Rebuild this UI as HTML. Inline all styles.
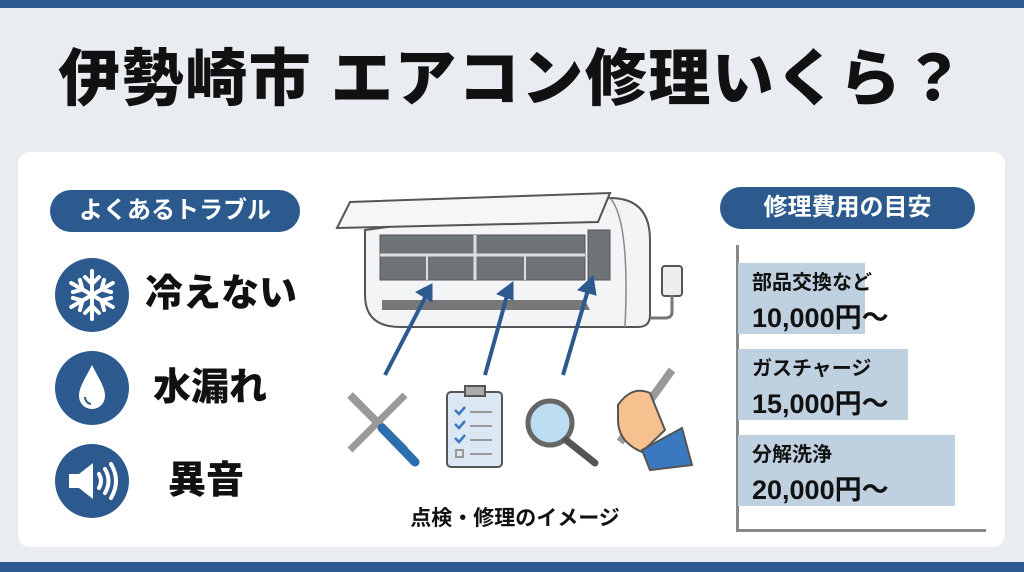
<!DOCTYPE html>
<html><head><meta charset="utf-8"><style>
body{margin:0;width:1024px;height:572px;background:#e9edf2;position:relative;overflow:hidden;font-family:"Liberation Sans","Noto Sans CJK JP",sans-serif;}
.abs{position:absolute}
.t{font-weight:900;color:#111}
.badge{position:absolute;background:#2c5a8e;color:#fff;border-radius:22px;font-weight:700;text-align:center;font-size:24px;line-height:42px;height:42px}
.circ{position:absolute;width:74px;height:74px;border-radius:50%;background:#2c5a8e;left:55px}
.bar{position:absolute;left:738px;background:#bfd0e0;height:71px}
.bt{position:absolute;left:752px;font-weight:700;color:#111}
</style></head><body>
<div class="abs" style="left:0;top:0;width:1024px;height:8px;background:#2c5a8e"></div>
<div class="abs" style="left:0;top:562px;width:1024px;height:10px;background:#2c5a8e"></div>
<div class="abs t" style="left:0;top:40px;width:1024px;text-align:center;font-size:62px;line-height:80px;letter-spacing:1.5px">伊勢崎市 エアコン修理いくら？</div>
<div class="abs" style="left:18px;top:152px;width:987px;height:395px;background:#fff;border-radius:12px"></div>

<div class="badge" style="left:50px;top:190px;width:250px">よくあるトラブル</div>
<div class="circ" style="top:258px"><svg width="74" height="74" viewBox="-37 -37 74 74" stroke="#fff" stroke-width="4" stroke-linecap="round" fill="none">
<g><line x1="0" y1="-24" x2="0" y2="24"/><path d="M-7 -18 L0 -11 L7 -18 M-7 18 L0 11 L7 18"/></g>
<g transform="rotate(60)"><line x1="0" y1="-24" x2="0" y2="24"/><path d="M-7 -18 L0 -11 L7 -18 M-7 18 L0 11 L7 18"/></g>
<g transform="rotate(120)"><line x1="0" y1="-24" x2="0" y2="24"/><path d="M-7 -18 L0 -11 L7 -18 M-7 18 L0 11 L7 18"/></g></svg></div>
<div class="circ" style="top:351px"><svg width="74" height="74" viewBox="0 0 74 74"><path d="M37 14 C30 28 24 36 24 45 A13 13 0 0 0 50 45 C50 36 44 28 37 14Z" fill="#fff"/><path d="M30 46 A7 7 0 0 0 36 53" stroke="#2c5a8e" stroke-width="2" fill="none"/></svg></div>
<div class="circ" style="top:444px"><svg width="74" height="74" viewBox="0 0 74 74" fill="none" stroke="#fff" stroke-width="4" stroke-linecap="round"><path d="M14 30 H24 L38 19 V55 L24 44 H14Z" fill="#fff" stroke="none"/><path d="M44 30 Q48 37 44 44"/><path d="M50 25 Q57 37 50 49"/><path d="M56 20 Q66 37 56 54"/></svg></div>
<div class="abs t" style="left:145px;top:272px;font-size:38px;line-height:44px">冷えない</div>
<div class="abs t" style="left:153px;top:366px;font-size:38px;line-height:44px">水漏れ</div>
<div class="abs t" style="left:168px;top:459px;font-size:38px;line-height:44px">異音</div>

<svg class="abs" style="left:320px;top:180px" width="380" height="300" viewBox="0 0 380 300">
<path d="M45 50 L290 18 Q330 18 330 60 L330 135 Q330 147 318 147 L80 147 Q45 147 45 115Z" fill="#f2f4f6" stroke="#555" stroke-width="2"/>
<path d="M290 18 Q310 40 305 147" stroke="#888" fill="none" stroke-width="1.5"/>
<rect x="60" y="55" width="205" height="45" fill="#6e7378" stroke="#555"/>
<line x1="60" y1="75" x2="265" y2="75" stroke="#ddd" stroke-width="3"/><line x1="155" y1="55" x2="155" y2="100" stroke="#ddd" stroke-width="3"/>
<line x1="107" y1="75" x2="107" y2="100" stroke="#ddd" stroke-width="2"/><line x1="205" y1="75" x2="205" y2="100" stroke="#ddd" stroke-width="2"/>
<rect x="268" y="50" width="22" height="50" fill="#6e7378" stroke="#555"/>
<path d="M62 120 L265 120 L270 130 L62 130Z" fill="#777"/>
<path d="M17 48 L30 22 L290 13 L278 42Z" fill="#f5f6f7" stroke="#555" stroke-width="2"/>
<rect x="342" y="86" width="20" height="30" rx="3" fill="#eee" stroke="#555" stroke-width="2"/>
<path d="M352 115 V132 Q352 138 345 138 H330" stroke="#777" stroke-width="3" fill="none"/>
<g stroke="#2c5a8e" stroke-width="4" fill="#2c5a8e">
<line x1="65" y1="195" x2="108" y2="112"/><path d="M112 104 L96 112 L112 122Z" stroke-width="1"/>
<line x1="165" y1="195" x2="188" y2="112"/><path d="M193 102 L177 114 L193 120Z" stroke-width="1"/>
<line x1="243" y1="195" x2="268" y2="110"/><path d="M273 96 L258 110 L276 115Z" stroke-width="1"/>
</g>
<g stroke="#555" stroke-width="2">
<path d="M30 215 L85 270" stroke="#999" stroke-width="8"/><path d="M30 270 L85 215" stroke="#999" stroke-width="7"/>
<path d="M62 248 L95 282" stroke="#2c6eae" stroke-width="9" stroke-linecap="round"/>
<rect x="127" y="212" width="55" height="75" rx="4" fill="#dbe8f4"/><rect x="145" y="206" width="20" height="10" fill="#aaa"/>
<circle cx="230" cy="243" r="22" fill="#bcdcf2" stroke="#666" stroke-width="5"/><line x1="246" y1="260" x2="275" y2="283" stroke="#555" stroke-width="7" stroke-linecap="round"/>
<path d="M300 262 L352 190" stroke="#999" stroke-width="8"/>
<path d="M298 225 Q312 205 330 213 L345 250 L322 272 Q298 262 298 240Z" fill="#f6c08f"/>
<path d="M322 270 L362 248 L372 285 L330 290Z" fill="#3a78bf"/>
</g>
<g stroke="#3a78bf" stroke-width="2.5" fill="none"><path d="M135 230 l4 4 l6 -7 M135 244 l4 4 l6 -7 M135 258 l4 4 l6 -7"/></g>
<g stroke="#999" stroke-width="2"><line x1="150" y1="232" x2="172" y2="232"/><line x1="150" y1="246" x2="172" y2="246"/><line x1="150" y1="260" x2="172" y2="260"/><line x1="150" y1="274" x2="172" y2="274"/><rect x="136" y="270" width="7" height="7" fill="none"/></g>
</svg>
<div class="abs t" style="left:370px;top:505px;width:290px;text-align:center;font-size:21px;line-height:28px;font-weight:700">点検・修理のイメージ</div>

<div class="badge" style="left:720px;top:187px;width:255px">修理費用の目安</div>
<div class="abs" style="left:736px;top:245px;width:3px;height:287px;background:#888"></div>
<div class="abs" style="left:736px;top:529px;width:250px;height:3px;background:#888"></div>
<div class="bar" style="top:263px;width:127px"></div>
<div class="bar" style="top:349px;width:170px"></div>
<div class="bar" style="top:435px;width:217px"></div>
<div class="bt" style="top:266px;font-size:20px">部品交換など</div>
<div class="bt" style="top:296px;font-size:27px">10,000円～</div>
<div class="bt" style="top:352px;font-size:20px">ガスチャージ</div>
<div class="bt" style="top:382px;font-size:27px">15,000円～</div>
<div class="bt" style="top:438px;font-size:20px">分解洗浄</div>
<div class="bt" style="top:468px;font-size:27px">20,000円～</div>
</body></html>
